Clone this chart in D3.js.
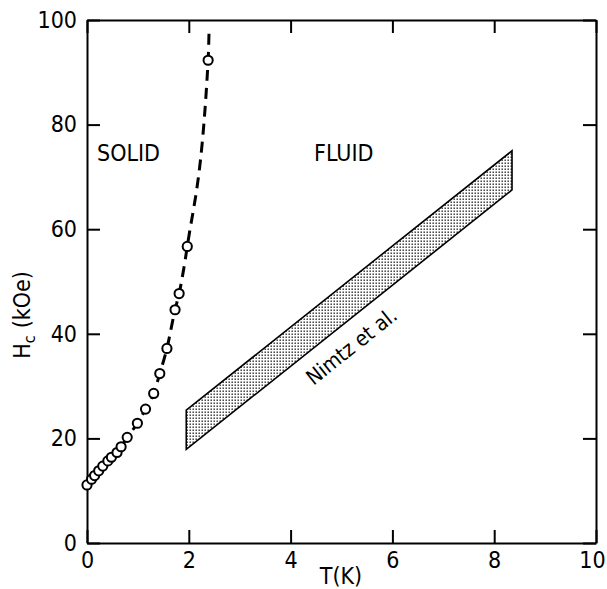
<!DOCTYPE html>
<html>
<head>
<meta charset="utf-8">
<title>Hc vs T</title>
<script src="https://cdn.jsdelivr.net/npm/d3@7"></script>
<style>
body { margin:0; background:#fff; }
text { font-family: "Liberation Sans Narrow", "DejaVu Sans Condensed", "Liberation Sans", sans-serif; font-stretch: condensed; fill:#000; }
</style>
</head>
<body>
<svg id="chart" width="607" height="589"></svg>
<script>
// measured points (T in K, Hc in kOe)
var tempK = [0, 0.09, 0.15, 0.23, 0.31, 0.41, 0.48, 0.59, 0.67, 0.79, 0.99, 1.15, 1.31, 1.43, 1.57, 1.73, 1.81, 1.97, 2.38];
var hcKOe = [11.1, 12.2, 12.9, 13.8, 14.7, 15.7, 16.4, 17.3, 18.4, 20.2, 22.9, 25.6, 28.6, 32.4, 37.2, 44.6, 47.7, 56.7, 92.3];
// dashed line runs on past the last point up to the frame
var lineEndT = 2.40, lineEndH = 98.7;

// Nimtz et al. band: corners
var bandT = [1.95, 1.95, 8.35, 8.35];
var bandH = [17.9, 25.4, 75.0, 67.5];

var xTicks = [0, 2, 4, 6, 8, 10];
var yTicks = [0, 20, 40, 60, 80, 100];

var svg = d3.select("#chart");
var x = d3.scaleLinear().domain([0, 10]).range([87, 596]);
var y = d3.scaleLinear().domain([0, 100]).range([543, 20]);

var defs = svg.append("defs");
var pat = defs.append("pattern").attr("id", "dots")
  .attr("patternUnits", "userSpaceOnUse").attr("width", 3).attr("height", 3);
pat.append("rect").attr("x", 0.5).attr("y", 0.5).attr("width", 1.4).attr("height", 1.4).attr("fill", "#222");

// axes, ticks inward on all four sides
function styleAxis(g) {
  g.select(".domain").attr("stroke", "#000").attr("stroke-width", 2);
  g.selectAll(".tick line").attr("stroke", "#000").attr("stroke-width", 2);
  g.selectAll(".tick text").attr("font-size", 23).attr("fill", "#000")
    .attr("font-family", null);
}
svg.append("g").attr("transform", "translate(0,543)")
  .call(d3.axisBottom(x).tickValues(xTicks).tickSize(-13).tickSizeOuter(0).tickPadding(9).tickFormat(d3.format("d")))
  .call(styleAxis)
  .selectAll(".tick text").filter(function(d) { return d === 10; }).attr("dx", -4);
svg.append("g").attr("transform", "translate(0,20)")
  .call(d3.axisTop(x).tickValues(xTicks).tickSize(-13).tickSizeOuter(0).tickFormat(""))
  .call(styleAxis);
svg.append("g").attr("transform", "translate(87,0)")
  .call(d3.axisLeft(y).tickValues(yTicks).tickSize(-13).tickSizeOuter(0).tickPadding(10).tickFormat(d3.format("d")))
  .call(styleAxis);
svg.append("g").attr("transform", "translate(596,0)")
  .call(d3.axisRight(y).tickValues(yTicks).tickSize(-13).tickSizeOuter(0).tickFormat(""))
  .call(styleAxis);

// band
var bandPts = bandT.map(function(t, i) { return [x(t), y(bandH[i])]; });
svg.append("path")
  .attr("d", "M" + bandPts.join("L") + "Z")
  .attr("fill", "url(#dots)")
  .attr("stroke", "#000").attr("stroke-width", 1.6).attr("stroke-linejoin", "miter");

// dashed curve through the points
var linePts = tempK.map(function(t, i) { return [t, hcKOe[i]]; });
linePts.push([lineEndT, lineEndH]);
var line = d3.line().x(function(d) { return x(d[0]); }).y(function(d) { return y(d[1]); })
  .curve(d3.curveMonotoneX);
svg.append("path").attr("d", line(linePts))
  .attr("fill", "none").attr("stroke", "#000").attr("stroke-width", 3)
  .attr("stroke-dasharray", "11,7");

svg.append("g").selectAll("circle").data(tempK).enter().append("circle")
  .attr("cx", function(d) { return x(d); })
  .attr("cy", function(d, i) { return y(hcKOe[i]); })
  .attr("r", 4.6)
  .attr("fill", "#fff").attr("stroke", "#000").attr("stroke-width", 2);

// labels
svg.append("text").attr("x", 97).attr("y", 161).attr("font-size", 23).text("SOLID");
svg.append("text").attr("x", 314).attr("y", 161).attr("font-size", 23).text("FLUID");

var ang = Math.atan2(y(bandH[0]) - y(bandH[3]), x(bandT[3]) - x(bandT[0])) * 180 / Math.PI;
svg.append("text").attr("transform", "translate(356,352) rotate(" + (-ang) + ")")
  .attr("text-anchor", "middle").attr("font-size", 21).text("Nimtz et al.");

svg.append("text").attr("x", 341).attr("y", 584).attr("text-anchor", "middle")
  .attr("font-size", 23).text("T(K)");

var yl = svg.append("text").attr("transform", "translate(30,315) rotate(-90)")
  .attr("text-anchor", "middle").attr("font-size", 23);
yl.append("tspan").text("H");
yl.append("tspan").attr("font-size", 16).attr("dy", 5).text("c");
yl.append("tspan").attr("dy", -5).attr("dx", 7).text("(kOe)");
</script>
</body>
</html>
